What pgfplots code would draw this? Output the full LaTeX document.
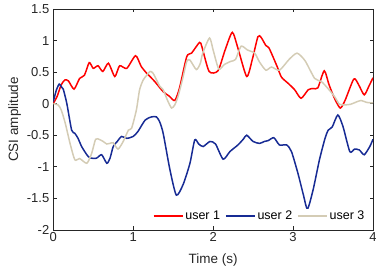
\documentclass[border=0pt]{standalone}
\usepackage{pgfplots}
\pgfplotsset{compat=1.18}
\usepackage{fontspec}
\setmainfont{Liberation Sans}
\definecolor{uone}{rgb}{1,0,0}
\definecolor{utwo}{rgb}{0.09,0.17,0.58}
\definecolor{uthree}{rgb}{0.83,0.80,0.71}
\definecolor{axgray}{rgb}{0.15,0.15,0.15}
\begin{document}
\begin{tikzpicture}[x=1bp,y=1bp]
\path[use as bounding box] (-53.3,-46) rectangle (323,230);
\begin{axis}[
  at={(0,0)}, anchor=south west,
  scale only axis, width=320bp, height=221bp,
  xmin=0, xmax=4, ymin=-2, ymax=1.5,
  xtick={0,1,2,3,4}, ytick={-2,-1.5,-1,-0.5,0,0.5,1,1.5},
  tick align=inside, tick pos=both,
  major tick length=3.5bp,
  axis line style={axgray, line width=0.5bp},
  tick style={axgray, line width=0.5bp},
  /pgf/number format/assume math mode=true,
  ticklabel style={font=\fontsize{13bp}{15bp}\selectfont, text=axgray},
  xticklabel style={yshift=1bp},
  yticklabel style={/pgf/number format/fixed, xshift=-0.5bp},
  xlabel={Time (s)}, ylabel={CSI amplitude},
  label style={font=\fontsize{13.5bp}{15bp}\selectfont, text=axgray},
  xlabel style={yshift=-5bp},
  ylabel style={yshift=-1bp},
  legend columns=3,
  legend style={at={(rel axis cs:0.98,0.03)}, anchor=south east, draw=none, fill=white,
    font=\fontsize{12.5bp}{14bp}\selectfont, inner sep=0bp,
    /tikz/every even column/.append style={column sep=3bp}},
  legend image code/.code={\draw[#1] (0,0) -- (29bp,0);},
  every axis plot/.append style={line width=1.5bp, smooth, tension=0.4},
]
\addplot[uone] coordinates {
(0,0.0)(0.05,0.12)(0.1,0.3)(0.146,0.375)(0.19,0.36)(0.26,0.23)(0.33,0.40)(0.39,0.45)
(0.45,0.65)(0.5,0.56)(0.56,0.60)(0.62,0.51)(0.69,0.64)(0.77,0.43)(0.83,0.60)(0.92,0.56)
(1.03,0.76)(1.10,0.59)(1.17,0.48)(1.21,0.43)(1.27,0.35)(1.375,0.19)(1.45,0.12)(1.52,0.05)
(1.58,0.25)(1.67,0.745)(1.73,0.80)(1.83,0.97)(1.86,0.90)(1.95,0.51)(2.06,0.52)(2.15,0.85)
(2.24,1.13)(2.31,0.88)(2.42,0.43)(2.49,0.70)(2.56,1.06)(2.60,1.05)(2.66,0.92)(2.70,0.88)
(2.80,0.59)(2.855,0.42)(2.94,0.32)(3.02,0.22)(3.10,0.085)(3.19,0.22)(3.25,0.24)(3.31,0.25)
(3.39,0.52)(3.45,0.30)(3.52,0.08)(3.59,-0.07)(3.65,0.05)(3.76,0.39)(3.82,0.30)(3.89,0.14)
(3.95,0.28)(4.0,0.41)
};
\addlegendentry{user 1}
\addplot[utwo] coordinates {
(0,0.03)(0.04,0.22)(0.075,0.31)(0.10,0.27)(0.125,0.23)(0.17,0.0)(0.23,-0.42)(0.27,-0.47)
(0.31,-0.55)(0.355,-0.68)(0.42,-0.81)(0.46,-0.86)(0.54,-0.865)(0.605,-0.81)(0.67,-0.945)
(0.71,-0.865)(0.75,-0.68)(0.80,-0.60)(0.855,-0.52)(0.92,-0.55)(1.0,-0.52)(1.06,-0.44)
(1.15,-0.26)(1.23,-0.21)(1.29,-0.21)(1.33,-0.285)(1.375,-0.47)(1.46,-1.05)(1.54,-1.45)
(1.625,-1.28)(1.71,-0.945)(1.77,-0.575)(1.82,-0.64)(1.875,-0.68)(1.96,-0.60)(2.03,-0.64)
(2.125,-0.88)(2.21,-0.76)(2.31,-0.655)(2.38,-0.56)(2.42,-0.50)(2.50,-0.60)(2.58,-0.63)
(2.64,-0.60)(2.69,-0.585)(2.76,-0.54)(2.83,-0.655)(2.92,-0.655)(2.98,-0.76)(3.06,-1.10)
(3.13,-1.45)(3.18,-1.67)(3.25,-1.37)(3.33,-0.89)(3.40,-0.55)(3.44,-0.42)(3.49,-0.37)
(3.56,-0.18)(3.625,-0.365)(3.71,-0.76)(3.77,-0.72)(3.83,-0.735)(3.89,-0.81)(3.96,-0.68)
(4.0,-0.565)
};
\addlegendentry{user 2}
\addplot[uthree] coordinates {
(0,0.0)(0.06,-0.02)(0.10,-0.10)(0.15,-0.31)(0.21,-0.63)(0.27,-0.89)(0.33,-0.87)(0.42,-0.945)
(0.48,-0.79)(0.53,-0.565)(0.58,-0.57)(0.625,-0.60)(0.67,-0.64)(0.71,-0.63)(0.75,-0.62)
(0.81,-0.72)(0.875,-0.60)(0.94,-0.42)(0.98,-0.39)(1.04,-0.10)(1.08,0.22)(1.125,0.375)
(1.17,0.45)(1.21,0.51)(1.25,0.48)(1.33,0.28)(1.375,0.22)(1.43,0.05)(1.48,-0.07)(1.52,-0.02)
(1.56,0.11)(1.62,0.40)(1.67,0.67)(1.71,0.69)(1.79,0.54)(1.84,0.64)(1.87,0.80)(1.955,1.04)
(2.0,0.85)(2.07,0.55)(2.14,0.62)(2.22,0.67)(2.28,0.70)(2.35,0.91)(2.43,0.85)(2.52,0.80)
(2.58,0.66)(2.66,0.53)(2.73,0.58)(2.83,0.53)(2.95,0.70)(3.05,0.80)(3.15,0.68)(3.27,0.40)
(3.355,0.35)(3.45,0.22)(3.52,0.11)(3.58,-0.01)(3.65,-0.02)(3.72,-0.01)(3.78,0.02)
(3.85,0.05)(3.92,0.02)(4.0,0.01)
};
\addlegendentry{user 3}
\end{axis}
\end{tikzpicture}
\end{document}
